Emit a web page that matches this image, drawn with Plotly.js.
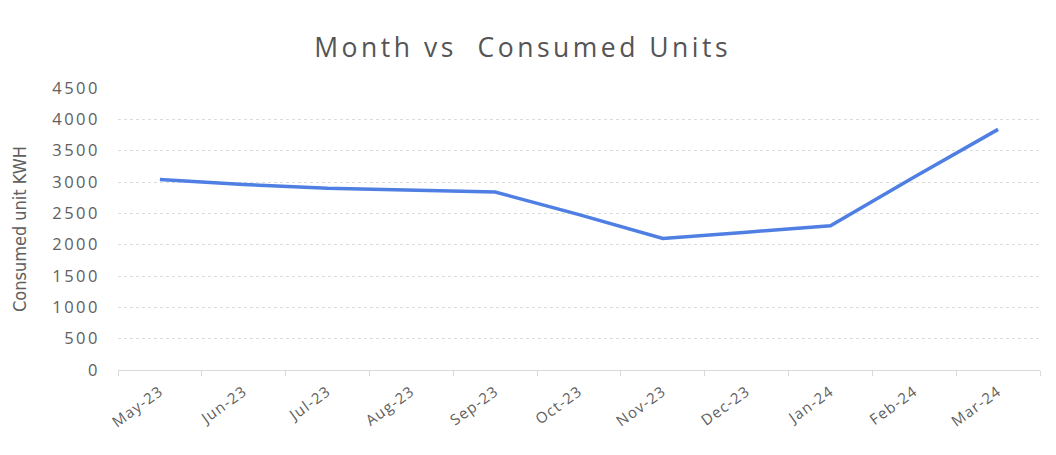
<!DOCTYPE html>
<html>
<head>
<meta charset="utf-8">
<script src="https://cdn.plot.ly/plotly-3.0.1.min.js"></script>
<style>
html,body{margin:0;padding:0;background:#fff;}
#chart{width:1056px;height:455px;}
#chart .gtitle{letter-spacing:3.5px;}
#chart .ytick text{letter-spacing:2.5px;}
#chart .xtick text{letter-spacing:1.2px;}
</style>
</head>
<body>
<div id="chart"></div>
<script>
const months = ["May-23","Jun-23","Jul-23","Aug-23","Sep-23","Oct-23","Nov-23","Dec-23","Jan-24","Feb-24","Mar-24"];
const consumedUnits = [3040, 2960, 2900, 2870, 2840, 2480, 2100, 2200, 2300, 3080, 3840];
const yTicks = [0, 500, 1000, 1500, 2000, 2500, 3000, 3500, 4000, 4500];

const trace = {
  x: months,
  y: consumedUnits,
  type: 'scatter',
  mode: 'lines',
  line: {color: '#4f7fe3', width: 3.5},
  hoverinfo: 'x+y'
};

const layout = {
  width: 1056,
  height: 455,
  paper_bgcolor: '#ffffff',
  plot_bgcolor: '#ffffff',
  margin: {l: 118, r: 16, t: 88, b: 85},
  showlegend: false,
  title: {
    text: 'Month vs\u00a0 Consumed Units',
    x: 0.495, xanchor: 'center',
    y: 0.895, yanchor: 'middle',
    font: {family: 'Open Sans, sans-serif', size: 26.5, color: '#555555'}
  },
  xaxis: {
    type: 'category',
    range: [-0.5, 10.5],
    tickangle: -36,
    tickfont: {family: 'Open Sans, sans-serif', size: 15, color: '#606060'},
    ticks: 'outside',
    tickson: 'boundaries',
    ticklen: 5,
    tickcolor: '#d9d9d9',
    ticklabelstandoff: 6,
    showgrid: false,
    showline: true,
    linecolor: '#d9d9d9',
    linewidth: 1,
    zeroline: false,
    fixedrange: true
  },
  yaxis: {
    range: [0, 4500],
    tickvals: yTicks,
    ticktext: yTicks.map(String),
    tickfont: {family: 'Open Sans, sans-serif', size: 16.5, color: '#606060'},
    ticks: '',
    ticklabelstandoff: 17,
    showgrid: true,
    gridcolor: '#dcdcdc',
    griddash: 'dot',
    gridwidth: 1,
    zeroline: false,
    showline: false,
    title: {
      text: 'Consumed unit KWH',
      standoff: 30,
      font: {family: 'DejaVu Sans Condensed, sans-serif', size: 18, color: '#606060'}
    },
    fixedrange: true
  }
};

Plotly.newPlot('chart', [trace], layout, {displayModeBar: false, staticPlot: true});
</script>
</body>
</html>
